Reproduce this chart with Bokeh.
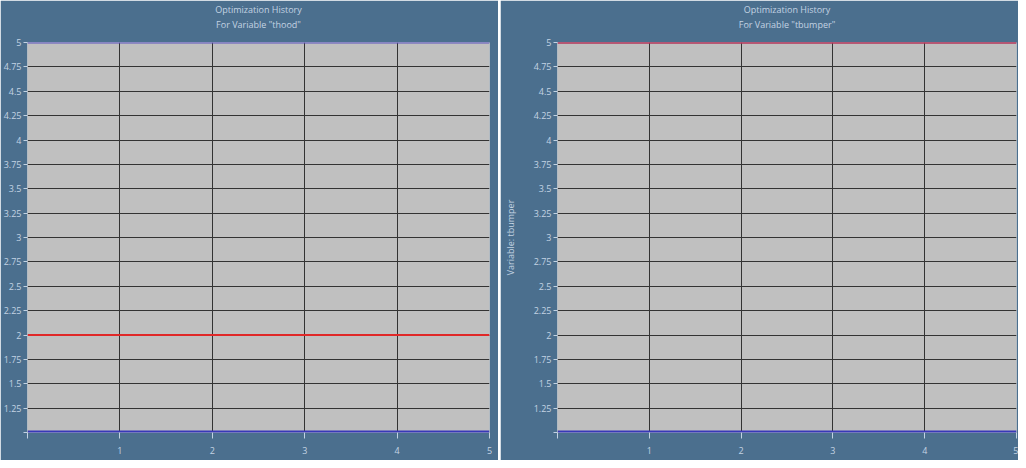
from bokeh.plotting import figure
from bokeh.models import Title, FixedTicker
from bokeh.layouts import row
from bokeh.embed import file_html
from bokeh.resources import INLINE

# Data
iterations = [0, 1, 2, 3, 4, 5]
thood_values = [2, 2, 2, 2, 2, 2]
thood_lower = [1, 1, 1, 1, 1, 1]
thood_upper = [5, 5, 5, 5, 5, 5]
tbumper_values = [5, 5, 5, 5, 5, 5]
tbumper_lower = [1, 1, 1, 1, 1, 1]
tbumper_upper = [5, 5, 5, 5, 5, 5]
x_ticks = [0, 1, 2, 3, 4, 5]
y_ticks = [1, 1.25, 1.5, 1.75, 2, 2.25, 2.5, 2.75, 3, 3.25, 3.5, 3.75, 4, 4.25, 4.5, 4.75, 5]

BG = "#4b6f8e"
PLOT_BG = "#c0c0c0"
TXT = "#c3d3e3"
FONT = "Open Sans"
FS = "9px"


def make(var, values, lower, upper, width, border_left, border_right, ylabel):
    p = figure(width=width, height=460, output_backend="svg", toolbar_location=None,
               x_range=(0, 5), y_range=(1, 5),
               background_fill_color=PLOT_BG, border_fill_color=BG,
               min_border_left=border_left, min_border_right=border_right,
               min_border_top=10, min_border_bottom=28)
    p.outline_line_color = None
    # spacer between titles and plot area
    p.add_layout(Title(text=" ", align="center", text_font_size="1px",
                       text_color=BG, standoff=9, offset=0), "above")
    p.add_layout(Title(text='For Variable "%s"' % var, align="center", text_font_size=FS,
                       text_color=TXT, text_font=FONT, text_font_style="normal",
                       text_line_height=0.95, standoff=0, offset=0), "above")
    p.add_layout(Title(text="Optimization History", align="center", text_font_size=FS,
                       text_color=TXT, text_font=FONT, text_font_style="normal",
                       text_line_height=0.95, standoff=0, offset=0), "above")

    for ax in (p.xaxis[0], p.yaxis[0]):
        ax.axis_line_color = None
        ax.major_tick_line_color = TXT
        ax.minor_tick_line_color = None
        ax.major_label_text_color = TXT
        ax.major_label_text_font = FONT
        ax.major_label_text_font_size = FS
        ax.major_tick_in = 0
    p.xaxis[0].ticker = FixedTicker(ticks=x_ticks)
    p.yaxis[0].ticker = FixedTicker(ticks=y_ticks)
    p.xaxis[0].major_label_overrides = {0: ""}
    p.yaxis[0].major_label_overrides = {1: ""}
    p.xaxis[0].major_tick_out = 6
    p.yaxis[0].major_tick_out = 4
    p.xaxis[0].major_label_standoff = 8
    p.yaxis[0].major_label_standoff = 2
    if ylabel:
        p.yaxis[0].axis_label = ylabel
        p.yaxis[0].axis_label_text_font = FONT
        p.yaxis[0].axis_label_text_font_size = FS
        p.yaxis[0].axis_label_text_font_style = "normal"
        p.yaxis[0].axis_label_text_color = TXT
        p.yaxis[0].axis_label_standoff = 14

    p.xgrid.grid_line_color = "#333333"
    p.ygrid.grid_line_color = "#333333"
    p.xgrid.ticker = FixedTicker(ticks=x_ticks)
    p.ygrid.ticker = FixedTicker(ticks=y_ticks)

    p.line(iterations, lower, line_color="#3838b8", line_width=4)
    p.line(iterations, upper, line_color="#5a50c0", line_width=2)
    p.line(iterations, values, line_color="#e02828", line_width=2)
    return p


p1 = make("thood", thood_values, thood_lower, thood_upper, 498, 27, 9, None)
p2 = make("tbumper", tbumper_values, tbumper_lower, tbumper_upper, 518, 57, 2, "Variable: tbumper")

p = row(p1, p2, spacing=2)
open("out.html", "w").write(file_html(p, INLINE))
